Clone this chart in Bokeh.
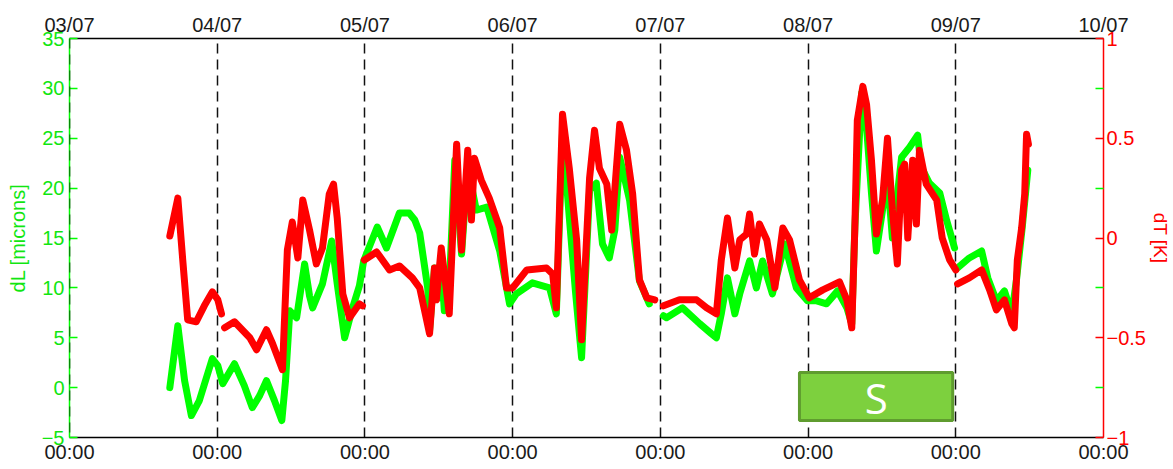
import math
from bokeh.plotting import figure
from bokeh.models import LinearAxis, Range1d, FixedTicker, Span, BoxAnnotation, Label
from bokeh.embed import file_html
from bokeh.resources import INLINE

nan = float("nan")

# ---- data ----
day_ticks_h = [0, 24, 48, 72, 96, 120, 144, 168]
day_labels = ["03/07", "04/07", "05/07", "06/07", "07/07", "08/07", "09/07", "10/07"]
time_labels = ["00:00"] * 8

dl_ticks = [-5, 0, 5, 10, 15, 20, 25, 30, 35]
dt_ticks = [-1, -0.5, 0, 0.5, 1]
dt_minor = [-0.75, -0.25, 0.25, 0.75]

dl_hours = [16.3, 17.6, 18.7, 19.8, 21.1, 23.2, 24.1, 24.9, 26.8, 28.4,
            29.7, 30.9, 32.0, 33.3, 34.5, 35.1, 35.8, 36.9, 38.2, 39.0,
            39.5, 41.1, 42.6, 43.5, 44.7, 46.0, 47.1, 47.8, 50.0, 51.5,
            53.6, 55.2, 56.1, 56.9, 58.2, 58.5, 59.3, 60.0, 60.4, 60.9,
            61.7, 62.6, 63.7, 64.7, 66.1, 67.8, 69.9, 71.5, 72.6, 75.2,
            78.0, 79.1, 80.1, 81.2, 82.2, 83.2, 84.5, 85.6, 86.6, 87.7,
            88.6, 89.4, 91.0, 92.6, 94.2, nan, 96.5, 97.0, 99.6, 102.4,
            104.3, 105.1, 105.9, 106.9, 108.1, 108.9, 110.5, 111.6, 112.6, 114.2,
            116.2, 118.1, 119.9, 121.4, 123.0, 124.8, 126.3, 127.1, 127.6, 128.7,
            129.5, 130.3, 131.1, 132.1, 132.9, 133.7, 135.2, 136.5, 137.8, 138.4,
            139.7, 141.4, 142.5, 143.8, nan, 144.3, 146.2, 148.2, 149.2, 150.6,
            151.9, 153.1, 153.9, 154.8, 155.7]
dl_microns = [0.0, 6.2, 0.7, -2.8, -1.3, 2.9, 2.2, 0.4, 2.4, 0.2,
              -2.0, -0.8, 0.7, -1.3, -3.3, 0.7, 7.7, 7.0, 12.4, 9.2,
              8.0, 10.4, 14.7, 10.4, 5.0, 8.0, 10.2, 12.7, 16.1, 14.0,
              17.5, 17.5, 16.8, 15.5, 10.0, 5.7, 12.0, 9.0, 12.7, 7.7,
              10.0, 22.8, 13.4, 22.1, 17.8, 18.1, 13.7, 8.4, 9.4, 10.5,
              10.0, 7.4, 25.5, 17.1, 9.7, 3.0, 19.8, 20.5, 14.4, 13.0,
              15.8, 23.1, 18.8, 10.7, 8.4, nan, 7.2, 7.0, 8.0, 6.4,
              5.4, 5.0, 7.4, 11.0, 7.4, 9.4, 12.7, 10.0, 12.7, 9.4,
              14.4, 10.0, 8.7, 8.7, 8.4, 9.7, 8.0, 6.4, 16.1, 29.5,
              26.1, 19.5, 13.7, 17.8, 21.1, 15.0, 23.1, 24.1, 25.3, 22.1,
              20.5, 19.5, 16.8, 14.0, nan, 12.0, 13.0, 13.7, 11.0, 8.7,
              9.7, 7.4, 11.0, 16.1, 21.8]

dt_hours = [16.3, 17.6, 18.4, 19.2, 20.6, 21.9, 23.2, 24.1, 24.7, nan,
            25.2, 26.8, 29.3, 30.4, 32.0, 33.0, 34.6, 35.4, 36.2, 37.1,
            37.9, 39.0, 40.1, 41.1, 42.2, 42.9, 43.5, 44.4, 45.5, 47.1,
            47.6, nan, 47.9, 49.9, 52.0, 53.6, 55.7, 56.9, 58.5, 59.3,
            59.6, 60.4, 61.7, 62.9, 63.7, 64.7, 65.3, 65.8, 66.9, 68.2,
            69.9, 71.0, 72.0, 74.3, 77.5, 78.5, 79.1, 80.1, 81.2, 82.4,
            83.2, 84.5, 85.3, 86.1, 87.3, 88.1, 89.4, 90.5, 91.5, 92.6,
            93.8, 95.1, nan, 96.5, 99.1, 101.9, 103.5, 105.1, 105.9, 106.9,
            108.1, 108.9, 110.0, 110.5, 111.3, 112.1, 113.3, 114.6, 115.9, 117.0,
            118.6, 120.2, 122.4, 125.1, 126.3, 127.1, 127.6, 128.0, 128.9, 129.5,
            130.3, 131.1, 132.1, 132.9, 133.7, 134.5, 135.2, 135.7, 136.2, 137.0,
            137.6, 138.1, 139.2, 140.9, 141.8, 143.0, 144.0, nan, 144.3, 146.2,
            148.2, 149.5, 150.6, 151.9, 153.1, 153.5, 154.0, 154.7, 155.2, 155.5,
            155.8]
dt_kelvin = [0.01, 0.20, -0.11, -0.41, -0.42, -0.34, -0.27, -0.31, -0.38, nan,
             -0.45, -0.42, -0.50, -0.56, -0.46, -0.53, -0.66, -0.06, 0.08, -0.10,
             0.19, 0.04, -0.13, -0.05, 0.22, 0.27, 0.10, -0.28, -0.40, -0.33,
             -0.34, nan, -0.11, -0.07, -0.16, -0.14, -0.20, -0.25, -0.48, -0.15,
             -0.31, -0.05, -0.38, 0.47, -0.06, 0.44, 0.09, 0.40, 0.29, 0.20,
             0.05, -0.25, -0.25, -0.16, -0.15, -0.18, -0.35, 0.62, 0.35, -0.01,
             -0.51, 0.30, 0.54, 0.35, 0.27, 0.04, 0.57, 0.44, 0.22, -0.21,
             -0.30, -0.31, nan, -0.34, -0.31, -0.31, -0.35, -0.38, -0.11, 0.10,
             -0.15, -0.01, 0.02, 0.12, -0.08, 0.07, -0.01, -0.25, 0.05, -0.01,
             -0.21, -0.30, -0.26, -0.22, -0.31, -0.45, 0.05, 0.59, 0.76, 0.67,
             0.39, 0.02, 0.19, 0.50, 0.14, -0.13, 0.34, 0.37, 0.00, 0.39,
             0.07, 0.44, 0.27, 0.19, 0.00, -0.11, -0.16, nan, -0.23, -0.20,
             -0.16, -0.26, -0.36, -0.31, -0.43, -0.45, -0.11, 0.05, 0.22, 0.52,
             0.47]

# "S" marker box (hours / microns)
s_box = dict(left=118.6, right=143.5, bottom=-3.3, top=1.52)
s_text = dict(x=131.1, y=-0.96, text="S")

GREEN = "#00ff00"
GREEN_TXT = "#11e611"
RED = "#ff0000"
FONT = "Liberation Sans"
FS = "20px"

p = figure(frame_width=1034, frame_height=399,
           min_border_left=69, min_border_top=38, min_border_right=20, min_border_bottom=20,
           x_range=Range1d(0, 168), y_range=Range1d(-5, 35),
           output_backend="svg", toolbar_location=None,
           x_axis_location=None, y_axis_location=None)
p.outline_line_color = None
p.background_fill_color = "white"
p.border_fill_color = "white"
p.extra_y_ranges = {"dT": Range1d(-1, 1)}

# grid: dashed vertical lines at each midnight
p.xgrid.ticker = FixedTicker(ticks=day_ticks_h)
p.xgrid.grid_line_color = "#111111"
p.xgrid.grid_line_width = 1.5
p.xgrid.grid_line_dash = "10 6"
p.ygrid.grid_line_color = None


def style_x(ax, labels):
    ax.ticker = FixedTicker(ticks=day_ticks_h)
    ax.major_label_overrides = {t: l for t, l in zip(day_ticks_h, labels)}
    ax.major_tick_in = 0
    ax.major_tick_out = 0
    ax.minor_tick_in = 0
    ax.minor_tick_out = 0
    ax.axis_line_color = "black"
    ax.axis_line_width = 1.5
    ax.major_label_text_font = FONT
    ax.major_label_text_font_size = FS
    ax.major_label_text_color = "#1a1a1a"
    ax.major_label_standoff = 3


bottom = LinearAxis()
style_x(bottom, time_labels)
p.add_layout(bottom, "below")
top = LinearAxis()
style_x(top, day_labels)
p.add_layout(top, "above")

left = LinearAxis(axis_label="dL [microns]")
left.ticker = FixedTicker(ticks=dl_ticks, minor_ticks=[])
left.major_tick_in = 8
left.major_tick_out = 0
left.major_tick_line_color = GREEN
left.major_tick_line_width = 1.5
left.axis_line_color = GREEN
left.axis_line_width = 1.5
left.major_label_text_color = GREEN_TXT
left.major_label_text_font = FONT
left.major_label_text_font_size = FS
left.major_label_standoff = 5
left.axis_label_text_color = GREEN_TXT
left.axis_label_text_font = FONT
left.axis_label_text_font_size = FS
left.axis_label_text_font_style = "normal"
left.axis_label_standoff = 10
p.add_layout(left, "left")

right = LinearAxis(y_range_name="dT", axis_label="dT [K]")
right.ticker = FixedTicker(ticks=dt_ticks, minor_ticks=dt_minor)
right.major_tick_in = 8
right.major_tick_out = 0
right.major_tick_line_color = RED
right.major_tick_line_width = 1.5
right.minor_tick_in = 8
right.minor_tick_out = 0
right.minor_tick_line_color = GREEN
right.minor_tick_line_width = 1.5
right.axis_line_color = RED
right.axis_line_width = 1.5
right.major_label_text_color = RED
right.major_label_text_font = FONT
right.major_label_text_font_size = FS
right.major_label_standoff = 3
right.axis_label_text_color = RED
right.axis_label_text_font = FONT
right.axis_label_text_font_size = "19px"
right.axis_label_text_font_style = "normal"
right.axis_label_standoff = 1
p.add_layout(right, "right")

# dashed black overlay on left spine
p.add_layout(Span(location=0, dimension="height", line_color="#111111",
                  line_dash="10 6", line_width=1.5, level="overlay"))

p.line(dl_hours, dl_microns, line_color=GREEN, line_width=7,
       line_join="round", line_cap="round")
p.line(dt_hours, dt_kelvin, line_color=RED, line_width=7,
       line_join="round", line_cap="round", y_range_name="dT")

p.add_layout(BoxAnnotation(left=s_box["left"], right=s_box["right"],
                           bottom=s_box["bottom"], top=s_box["top"],
                           fill_color="#7dd03e", fill_alpha=1.0,
                           line_color="#5f9c2f", line_width=3, line_alpha=1.0))
p.add_layout(Label(x=s_text["x"], y=s_text["y"], text=s_text["text"],
                   text_align="center", text_baseline="middle",
                   text_color="white", text_font="Open Sans",
                   text_font_size="42px"))

open("out.html", "w").write(file_html(p, INLINE))
